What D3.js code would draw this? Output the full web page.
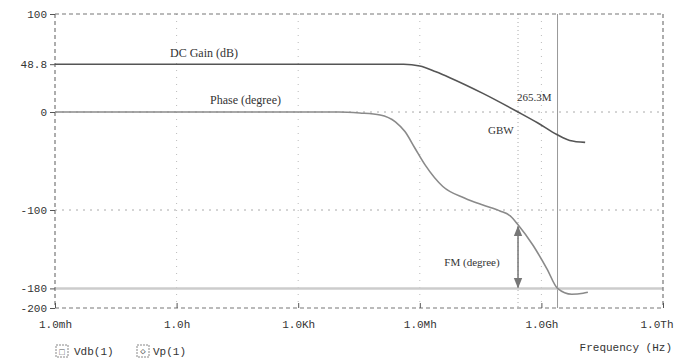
<!DOCTYPE html>
<html><head><meta charset="utf-8">
<script src="https://cdn.jsdelivr.net/npm/d3@7"></script>
<style>body{margin:0;background:#fff}svg{display:block}</style>
</head><body>
<svg id="c" width="676" height="363"></svg>
<script>
// ---- data ----
const xTickValues = [1e-3, 1, 1e3, 1e6, 1e9, 1e12];
const xTickLabels = ["1.0mh", "1.0h", "1.0Kh", "1.0Mh", "1.0Gh", "1.0Th"];
const yTickValues = [100, 48.8, 0, -100, -180, -200];
const yTickLabels = ["100", "48.8", "0", "-100", "-180", "-200"];

const gainFreq = [1e-3, 4e5, 1e6, 2.5e6, 5.5e6, 3.6e7, 2.65e8, 8e8, 2.4e9, 5e9, 1.2e10];
const gainDb   = [48.8, 48.8, 47, 41, 35, 19, 0, -11, -23, -29, -31];

const phaseFreq = [1e-3, 1e4, 3.3e4, 1.05e5, 2.5e5, 4.3e5, 7.6e5, 1.35e6, 3.7e6, 1.3e7, 3.6e7, 9.5e7, 1.7e8, 2.65e8, 6.2e8, 1.37e9, 2.5e9, 5.6e9, 1.07e10, 1.4e10];
const phaseDeg  = [0, 0, -1, -3, -10, -20, -37, -54, -76, -88, -95, -101, -106, -115, -136, -160, -180, -186, -185, -184];

const gbwFreq = 2.65e8;     // gain crossover
const pcFreq = 2.5e9;       // phase crossover
const fmTop = -115, fmBottom = -180;

// ---- layout ----
const svg = d3.select("#c");
const L = 55, R = 663, T = 14, B = 308;
const x = d3.scaleLog().domain([1e-3, 1e12]).range([L, R]);
const y = d3.scaleLinear().domain([-200, 100]).range([B, T]);
const mono = "Liberation Mono, DejaVu Sans Mono, monospace";
const serif = "Liberation Serif, DejaVu Serif, serif";

// grid
const g = svg.append("g");
xTickValues.slice(1, -1).forEach(v => {
  g.append("line").attr("x1", x(v)).attr("x2", x(v)).attr("y1", T).attr("y2", B)
    .attr("stroke", "#bbb").attr("stroke-width", 1).attr("stroke-dasharray", "1,6");
});
[0, -100].forEach(v => {
  g.append("line").attr("x1", L).attr("x2", R).attr("y1", y(v)).attr("y2", y(v))
    .attr("stroke", "#aaa").attr("stroke-width", 1).attr("stroke-dasharray", "2,5");
});
// gbw dotted vertical
g.append("line").attr("x1", x(gbwFreq)).attr("x2", x(gbwFreq)).attr("y1", T).attr("y2", B)
  .attr("stroke", "#aaa").attr("stroke-dasharray", "1,3");
// phase crossover solid vertical
g.append("line").attr("x1", x(pcFreq)).attr("x2", x(pcFreq)).attr("y1", T).attr("y2", B)
  .attr("stroke", "#999").attr("stroke-width", 1);
// -180 line
g.append("line").attr("x1", L).attr("x2", R).attr("y1", y(-180)).attr("y2", y(-180))
  .attr("stroke", "#ccc").attr("stroke-width", 2.5);

// frame (dashed)
const fr = svg.append("g").attr("stroke", "#777").attr("stroke-width", 1.2).attr("stroke-dasharray", "4,3");
fr.append("line").attr("x1", L).attr("x2", R).attr("y1", T).attr("y2", T);
fr.append("line").attr("x1", L).attr("x2", R).attr("y1", B).attr("y2", B);
fr.append("line").attr("x1", L).attr("x2", L).attr("y1", T).attr("y2", B);
fr.append("line").attr("x1", R).attr("x2", R).attr("y1", T).attr("y2", B);

// axes
const xAxis = d3.axisBottom(x).tickValues(xTickValues).tickFormat((d, i) => xTickLabels[i]).tickSize(-5).tickPadding(12);
const xa = svg.append("g").attr("transform", `translate(0,${B})`).call(xAxis);
xa.select(".domain").remove();
xa.selectAll("line").attr("stroke", "#555");
xa.selectAll("text").attr("font-family", mono).attr("font-size", 11).attr("fill", "#333");
xa.selectAll(".tick").filter((d, i) => i === xTickValues.length - 1).select("text")
  .attr("text-anchor", "end").attr("dx", 10);

const yAxis = d3.axisLeft(y).tickValues(yTickValues).tickFormat((d, i) => yTickLabels[i]).tickSize(5).tickPadding(3);
const ya = svg.append("g").attr("transform", `translate(${L},0)`).call(yAxis);
ya.select(".domain").remove();
ya.selectAll("line").attr("stroke", "#555");
ya.selectAll("text").attr("font-family", mono).attr("font-size", 11).attr("fill", "#333");

// curves
const line = d3.line().curve(d3.curveMonotoneX);
const gainPts = gainFreq.map((f, i) => [x(f), y(gainDb[i])]);
const phasePts = phaseFreq.map((f, i) => [x(f), y(phaseDeg[i])]);
svg.append("path").attr("d", line(phasePts)).attr("fill", "none").attr("stroke", "#8a8a8a").attr("stroke-width", 1.6);
svg.append("path").attr("d", line(gainPts)).attr("fill", "none").attr("stroke", "#555").attr("stroke-width", 1.6);

// FM arrow
svg.append("defs").html(`<marker id="ah" viewBox="0 0 10 10" refX="9" refY="5" markerWidth="7" markerHeight="7" orient="auto-start-reverse"><path d="M0,1 L10,5 L0,9 z" fill="#777"/></marker>`);
svg.append("line").attr("x1", x(gbwFreq)).attr("x2", x(gbwFreq))
  .attr("y1", y(fmTop) + 2).attr("y2", y(fmBottom) - 1)
  .attr("stroke", "#777").attr("stroke-width", 1.5)
  .attr("marker-start", "url(#ah)").attr("marker-end", "url(#ah)");

// annotations
const txt = (s, xx, yy, opts = {}) => svg.append("text").attr("x", xx).attr("y", yy)
  .attr("font-family", opts.font || serif).attr("font-size", opts.size || 12)
  .attr("fill", opts.fill || "#333").attr("text-anchor", opts.anchor || "start").text(s);
txt("DC Gain (dB)", 170, 57);
txt("Phase (degree)", 210, 104);
txt("265.3M", 517, 101, {size: 11});
txt("GBW", 488, 134, {size: 11});
txt("FM (degree)", 472, 266, {size: 11, anchor: "middle"});
txt("Frequency (Hz)", 672, 351, {font: mono, size: 11, anchor: "end"});

// legend
const lg = svg.append("g");
lg.append("rect").attr("x", 56).attr("y", 345).attr("width", 12).attr("height", 12).attr("fill", "none").attr("stroke", "#888").attr("stroke-dasharray", "2,1");
lg.append("text").attr("x", 62).attr("y", 355).attr("text-anchor", "middle").attr("font-family", mono).attr("font-size", 9).attr("fill", "#555").text("□");
txt("Vdb(1)", 74, 355, {font: mono, size: 11});
lg.append("rect").attr("x", 137).attr("y", 345).attr("width", 12).attr("height", 12).attr("fill", "none").attr("stroke", "#888").attr("stroke-dasharray", "2,1");
lg.append("text").attr("x", 143).attr("y", 354).attr("text-anchor", "middle").attr("font-family", mono).attr("font-size", 9).attr("fill", "#555").text("◇");
txt("Vp(1)", 153, 355, {font: mono, size: 11});
</script>
</body></html>
